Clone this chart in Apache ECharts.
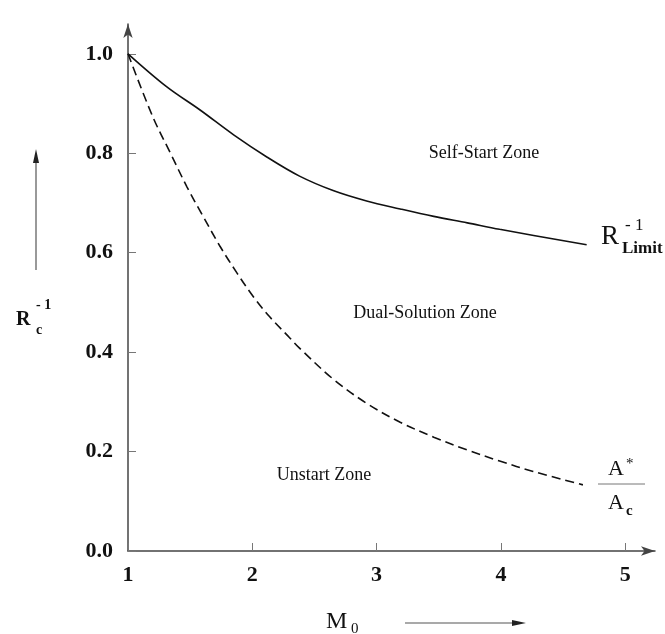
<!DOCTYPE html>
<html>
<head>
<meta charset="utf-8">
<script src="https://cdn.jsdelivr.net/npm/echarts@6/dist/echarts.min.js"></script>
<style>
  html, body { margin: 0; padding: 0; background: #fff; }
  #chart { width: 665px; height: 634px; }
</style>
</head>
<body>
<div id="chart"></div>
<script>
// R_Limit^-1 curve (solid)
var limitM = [1.0, 1.31, 1.58, 1.85, 2.12, 2.38, 2.65, 2.92, 3.19, 3.46, 3.73, 3.99, 4.69];
var limitR = [1.0, 0.934, 0.887, 0.837, 0.792, 0.754, 0.725, 0.704, 0.688, 0.673, 0.660, 0.647, 0.616];
// A*/Ac curve (dashed)
var ratioM = [1.0, 1.2, 1.34, 1.475, 1.6, 1.74, 1.88, 2.01, 2.14, 2.3, 2.38, 2.65, 2.92, 3.19, 3.46, 3.73, 3.99, 4.26, 4.66];
var ratioA = [1.0, 0.873, 0.801, 0.732, 0.675, 0.613, 0.558, 0.511, 0.471, 0.429, 0.408, 0.346, 0.297, 0.259, 0.229, 0.203, 0.181, 0.160, 0.133];
var xTicks = [1, 2, 3, 4, 5];
var yTicks = [0, 0.2, 0.4, 0.6, 0.8, 1.0];

var serif = "'Liberation Serif', 'Times New Roman', serif";

function pairs(xs, ys) {
  return xs.map(function (x, i) { return [x, ys[i]]; });
}

function txt(x, y, s, font, align) {
  return {
    type: 'text', x: x, y: y, silent: true,
    style: {
      text: s, font: font, fill: '#111',
      align: align || 'left', verticalAlign: 'middle',
      textAlign: align || 'left', textVerticalAlign: 'middle'
    }
  };
}

var myChart = echarts.init(document.getElementById('chart'));
var option = {
  backgroundColor: '#fff',
  animation: false,
  grid: { left: 128, right: 10, top: 24, bottom: 83 },
  xAxis: {
    type: 'value', min: 1, max: 5.24,
    splitLine: { show: false },
    axisLine: {
      lineStyle: { color: '#444', width: 1.5 },
      symbol: ['none', 'arrow'], symbolSize: [7, 14]
    },
    axisTick: { inside: true, length: 8, lineStyle: { color: '#777' }, customValues: xTicks },
    axisLabel: {
      customValues: xTicks, margin: 13,
      fontFamily: serif, fontSize: 22, fontWeight: 'bold', color: '#111'
    }
  },
  yAxis: {
    type: 'value', min: 0, max: 1.06,
    splitLine: { show: false },
    axisLine: {
      lineStyle: { color: '#444', width: 1.5 },
      symbol: ['none', 'arrow'], symbolSize: [7, 14]
    },
    axisTick: { inside: true, length: 8, lineStyle: { color: '#777' }, customValues: yTicks },
    axisLabel: {
      customValues: yTicks, margin: 15,
      formatter: function (v) { return v.toFixed(1); },
      fontFamily: serif, fontSize: 22, fontWeight: 'bold', color: '#111'
    }
  },
  series: [
    {
      name: 'R_Limit',
      type: 'line',
      data: pairs(limitM, limitR),
      smooth: 0.35,
      showSymbol: false,
      lineStyle: { color: '#111', width: 1.6 }
    },
    {
      name: 'A*/Ac',
      type: 'line',
      data: pairs(ratioM, ratioA),
      smooth: 0.35,
      showSymbol: false,
      lineStyle: { color: '#111', width: 1.6, type: [9, 5] }
    }
  ],
  graphic: [
    // zone labels
    txt(484, 153, 'Self-Start Zone', '18px ' + serif, 'center'),
    txt(425, 313, 'Dual-Solution Zone', '18px ' + serif, 'center'),
    txt(324, 475, 'Unstart Zone', '18px ' + serif, 'center'),
    // R_Limit^-1
    txt(601, 237, 'R', '27px ' + serif),
    txt(625, 226, '- 1', '17px ' + serif),
    txt(622, 249, 'Limit', 'bold 17px ' + serif),
    // A*/Ac
    txt(608, 469, 'A', '22px ' + serif),
    txt(626, 464, '*', '15px ' + serif),
    { type: 'line', silent: true, shape: { x1: 598, y1: 484, x2: 645, y2: 484 }, style: { stroke: '#777', lineWidth: 1 } },
    txt(608, 503, 'A', '22px ' + serif),
    txt(626, 511, 'c', 'bold 15px ' + serif),
    // y axis title R_c^-1 with arrow
    txt(16, 320, 'R', 'bold 20px ' + serif),
    txt(36, 305, '- 1', 'bold 14px ' + serif),
    txt(36, 330, 'c', 'bold 14px ' + serif),
    { type: 'line', silent: true, shape: { x1: 36, y1: 270, x2: 36, y2: 160 }, style: { stroke: '#555', lineWidth: 1.2 } },
    { type: 'polygon', silent: true, shape: { points: [[36, 149], [33, 163], [39, 163]] }, style: { fill: '#222' } },
    // x axis title M_0 with arrow
    txt(326, 622, 'M', '24px ' + serif),
    txt(351, 629, '0', '15px ' + serif),
    { type: 'line', silent: true, shape: { x1: 405, y1: 623, x2: 514, y2: 623 }, style: { stroke: '#555', lineWidth: 1.2 } },
    { type: 'polygon', silent: true, shape: { points: [[526, 623], [512, 620], [512, 626]] }, style: { fill: '#222' } }
  ]
};
myChart.setOption(option);
</script>
</body>
</html>
